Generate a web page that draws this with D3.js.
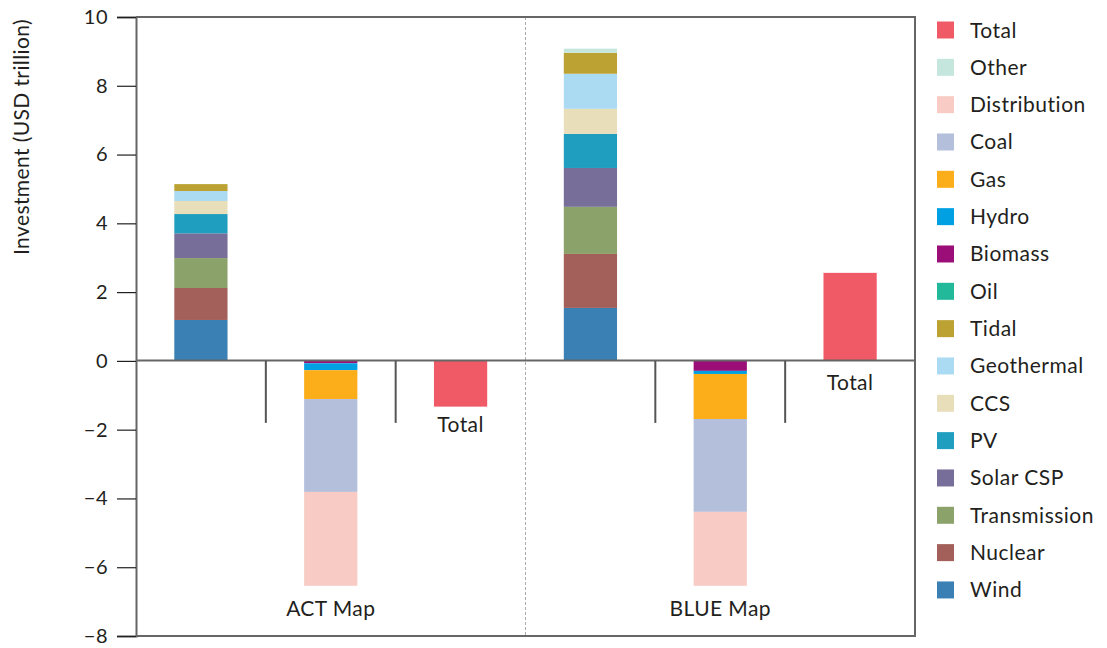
<!DOCTYPE html>
<html>
<head>
<meta charset="utf-8">
<script src="https://cdn.jsdelivr.net/npm/d3@7"></script>
<style>
  html, body { margin: 0; padding: 0; background: #fff; }
  svg { display: block; font-family: Lato, "Open Sans", sans-serif; }
</style>
</head>
<body>
<svg id="chart" width="1107" height="648"></svg>
<script>
// ---- data ----
const scenarios = ["ACT Map", "BLUE Map"];
const slots = ["ACT Map increase", "ACT Map decrease", "ACT Map total",
               "BLUE Map increase", "BLUE Map decrease", "BLUE Map total"];
const technologies = ["Wind", "Nuclear", "Transmission", "Solar CSP", "PV", "CCS",
                      "Geothermal", "Tidal", "Oil", "Biomass", "Hydro", "Gas", "Coal",
                      "Distribution", "Other"];
const actValues  = [1.19, 0.93, 0.87, 0.72, 0.56, 0.38, 0.29, 0.20, 0.00, -0.07, -0.20, -0.84, -2.70, -2.73, 0.00];
const blueValues = [1.54, 1.57, 1.37, 1.13, 0.99, 0.73, 1.02, 0.61, 0.00, -0.29, -0.09, -1.31, -2.70, -2.15, 0.12];
const totals = [-1.33, 2.56];
const yTicks = [-8, -6, -4, -2, 0, 2, 4, 6, 8, 10];
const colors = ["#3a80b4", "#a3605a", "#8ba36a", "#776e9a", "#1f9ebf", "#e8dfba",
                "#abdaf3", "#bba232", "#22b99a", "#9b0e78", "#00a0e3", "#fbae19",
                "#b4bfdb", "#f8cbc4", "#c5e6dc"];
const totalColor = "#f05a67";

// ---- layout ----
const svg = d3.select("#chart");
const mLeft = 136, mRight = 915, mTop = 17, mBottom = 636;
const textColor = "#231f20";
const lineColor = "#666";

const x = d3.scaleBand().domain(slots).range([mLeft, mRight]).paddingInner(0.59).paddingOuter(0.295);
const y = d3.scaleLinear().domain([-8, 10]).range([mBottom, mTop]);
const color = d3.scaleOrdinal().domain(technologies).range(colors);

// rows for stacking: increase/decrease columns split by sign
const rows = [];
[actValues, blueValues].forEach((vals, si) => {
  const inc = { slot: slots[si * 3] }, dec = { slot: slots[si * 3 + 1] };
  technologies.forEach((t, i) => {
    inc[t] = vals[i] > 0 ? vals[i] : 0;
    dec[t] = vals[i] < 0 ? vals[i] : 0;
  });
  rows.push(inc, dec);
});
const stacked = d3.stack().keys(technologies).offset(d3.stackOffsetDiverging)(rows);

// dashed divider between scenarios
svg.append("line")
  .attr("x1", (mLeft + mRight) / 2).attr("x2", (mLeft + mRight) / 2)
  .attr("y1", mTop).attr("y2", mBottom)
  .attr("stroke", "#aaa").attr("stroke-width", 1).attr("stroke-dasharray", "3,2");

// stacked bars
svg.append("g").selectAll("g").data(stacked).join("g")
  .attr("fill", d => color(d.key))
  .selectAll("rect").data(d => d.filter(p => p[1] - p[0] !== 0)).join("rect")
  .attr("x", d => x(d.data.slot))
  .attr("width", x.bandwidth())
  .attr("y", d => y(Math.max(d[0], d[1])))
  .attr("height", d => Math.abs(y(d[0]) - y(d[1])));

// total bars
svg.append("g").selectAll("rect").data(totals).join("rect")
  .attr("fill", totalColor)
  .attr("x", (d, i) => x(slots[i * 3 + 2]))
  .attr("width", x.bandwidth())
  .attr("y", d => y(Math.max(0, d)))
  .attr("height", d => Math.abs(y(d) - y(0)));

// zero line
svg.append("line").attr("x1", mLeft).attr("x2", mRight).attr("y1", y(0) - 0.5).attr("y2", y(0) - 0.5)
  .attr("stroke", lineColor).attr("stroke-width", 2);

// group separator ticks
const sepXs = [1, 2, 4, 5].map(i => mLeft + i * (mRight - mLeft) / 6);
svg.append("g").selectAll("line").data(sepXs).join("line")
  .attr("x1", d => d).attr("x2", d => d)
  .attr("y1", y(0)).attr("y2", y(0) + 62)
  .attr("stroke", "#555").attr("stroke-width", 2);

// frame: top, right, bottom
svg.append("path")
  .attr("d", `M${mLeft},${mTop}H${mRight}V${mBottom}H${mLeft}`)
  .attr("fill", "none").attr("stroke", lineColor).attr("stroke-width", 2);

// y axis
const yAxis = svg.append("g").attr("transform", `translate(${mLeft},0)`)
  .call(d3.axisLeft(y).tickValues(yTicks).tickSize(19).tickPadding(9).tickFormat(d3.format("d")));
yAxis.select(".domain").attr("stroke", lineColor).attr("stroke-width", 2);
yAxis.selectAll(".tick line").attr("stroke", textColor).attr("stroke-width", 1.2);
yAxis.selectAll(".tick text").attr("fill", textColor).style("font-size", "20px")
  .style("font-family", "Lato, sans-serif").style("letter-spacing", "0.5px");

// y title
svg.append("text")
  .attr("transform", `translate(29,137) rotate(-90)`)
  .attr("text-anchor", "middle")
  .attr("fill", textColor).style("font-size", "21px").style("letter-spacing", "0.4px")
  .text("Investment (USD trillion)");

// scenario labels
svg.append("g").selectAll("text").data(scenarios).join("text")
  .attr("x", (d, i) => x(slots[i * 3 + 1]) + x.bandwidth() / 2)
  .attr("y", 616)
  .attr("text-anchor", "middle").attr("fill", textColor)
  .style("font-size", "21px").style("letter-spacing", "0.4px")
  .text(d => d);

// "Total" labels
svg.append("g").selectAll("text").data(totals).join("text")
  .attr("x", (d, i) => x(slots[i * 3 + 2]) + x.bandwidth() / 2)
  .attr("y", d => Math.max(y(d), y(0) + 4) + 25)
  .attr("text-anchor", "middle").attr("fill", textColor)
  .style("font-size", "21px").style("letter-spacing", "0.4px")
  .text("Total");

// legend
const legendItems = [{ name: "Total", color: totalColor }]
  .concat(technologies.slice().reverse().map(t => ({ name: t, color: color(t) })));
const lg = svg.append("g").selectAll("g").data(legendItems).join("g")
  .attr("transform", (d, i) => `translate(937,${30 + i * 37.33})`);
lg.append("rect").attr("x", 0).attr("y", -8.5).attr("width", 17).attr("height", 17)
  .attr("fill", d => d.color);
lg.append("text").attr("x", 33).attr("y", 7.5).attr("fill", textColor)
  .style("font-size", "21px").style("letter-spacing", "0.5px").text(d => d.name);
</script>
</body>
</html>
